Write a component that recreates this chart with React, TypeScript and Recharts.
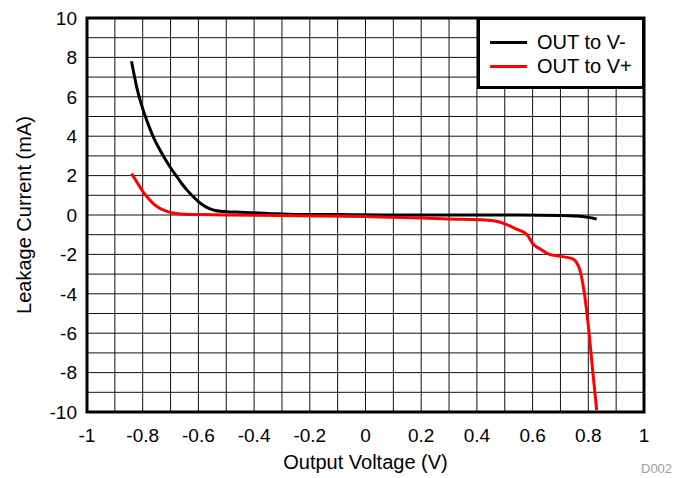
import { LineChart, Line, XAxis, YAxis, CartesianGrid, ReferenceArea } from 'recharts';

const xTicks = [-1, -0.9, -0.8, -0.7, -0.6, -0.5, -0.4, -0.3, -0.2, -0.1, 0, 0.1, 0.2, 0.3, 0.4, 0.5, 0.6, 0.7, 0.8, 0.9, 1];
const yTicks = [-10, -9, -8, -7, -6, -5, -4, -3, -2, -1, 0, 1, 2, 3, 4, 5, 6, 7, 8, 9, 10];

// OUT to V-
const vMinusX = [-0.84, -0.82, -0.8, -0.78, -0.76, -0.74, -0.72, -0.7, -0.68, -0.66, -0.64, -0.62, -0.6, -0.58, -0.56, -0.54, -0.52, -0.5, -0.45, -0.35, -0.25, -0.1, 0.1, 0.3, 0.5, 0.7, 0.76, 0.8, 0.83];
const vMinusY = [7.8, 6.4, 5.4, 4.6, 3.9, 3.35, 2.85, 2.4, 2.0, 1.6, 1.25, 0.95, 0.68, 0.47, 0.32, 0.23, 0.19, 0.17, 0.14, 0.08, 0.03, 0.02, 0.0, 0.0, 0.0, -0.02, -0.05, -0.12, -0.2];

// OUT to V+
const vPlusX = [-0.84, -0.82, -0.8, -0.78, -0.76, -0.74, -0.72, -0.7, -0.68, -0.65, -0.6, -0.5, -0.3, 0, 0.2, 0.3, 0.43, 0.47, 0.5, 0.54, 0.58, 0.6, 0.63, 0.66, 0.7, 0.74, 0.755, 0.77, 0.785, 0.8, 0.815, 0.83];
const vPlusY = [2.1, 1.65, 1.2, 0.85, 0.55, 0.35, 0.22, 0.13, 0.08, 0.04, 0.02, 0.0, -0.02, -0.08, -0.15, -0.2, -0.25, -0.32, -0.45, -0.7, -1.0, -1.45, -1.75, -2.0, -2.1, -2.2, -2.35, -2.8, -3.9, -5.6, -7.8, -9.9];

const series = [
  { name: 'OUT to V-', color: '#000000', data: vMinusX.map((x, i) => ({ x, y: vMinusY[i] })) },
  { name: 'OUT to V+', color: '#ff0000', data: vPlusX.map((x, i) => ({ x, y: vPlusY[i] })) },
];

const font = '"Liberation Sans", Arial, sans-serif';

const evenOnly = (v: number) => (Math.round(v * 10) % 2 === 0 ? String(v) : '');
const evenInt = (v: number) => (v % 2 === 0 ? String(v) : '');

export default function App() {
  return (
    <div style={{ position: 'relative', width: 675, height: 478, fontFamily: font }}>
      <style>{`body{margin:0}`}</style>
      <LineChart width={675} height={478} margin={{ top: 18, right: 31, bottom: 0, left: 0 }}>
        <CartesianGrid stroke="#111" strokeWidth={1} />
        <XAxis
          type="number"
          dataKey="x"
          domain={[-1, 1]}
          ticks={xTicks}
          tickFormatter={evenOnly}
          interval={0}
          allowDataOverflow
          axisLine={false}
          tickLine={false}
          tickMargin={11}
          height={66}
          tick={{ fill: '#000', fontSize: 19, fontFamily: font }}
          label={{ value: 'Output Voltage (V)', position: 'insideBottom', offset: 9, fill: '#000', fontSize: 20, fontFamily: font }}
        />
        <YAxis
          type="number"
          dataKey="y"
          domain={[-10, 10]}
          ticks={yTicks}
          tickFormatter={evenInt}
          interval={0}
          allowDataOverflow
          axisLine={false}
          tickLine={false}
          tickMargin={4}
          width={87}
          tick={{ fill: '#000', fontSize: 19, fontFamily: font }}
          label={{ value: 'Leakage Current (mA)', angle: -90, position: 'center', dx: -20, fill: '#000', fontSize: 20, fontFamily: font }}
        />
        <ReferenceArea x1={-1} x2={1} y1={-10} y2={10} fill="none" stroke="#000" strokeWidth={3} ifOverflow="visible" />
        {series.map((s) => (
          <Line
            key={s.name}
            data={s.data}
            dataKey="y"
            name={s.name}
            type="monotone"
            stroke={s.color}
            strokeWidth={3}
            dot={false}
            isAnimationActive={false}
          />
        ))}
      </LineChart>
      <div
        style={{
          position: 'absolute',
          left: 477,
          top: 17,
          width: 168,
          height: 72,
          border: '3px solid #000',
          boxSizing: 'border-box',
          background: '#fff',
          padding: '10px 0 0 10px',
          fontSize: 20,
        }}
      >
        {series.map((s) => (
          <div key={s.name} style={{ display: 'flex', alignItems: 'center', height: 24 }}>
            <div style={{ width: 37, height: 3, background: s.color, marginRight: 10 }} />
            <span>{s.name}</span>
          </div>
        ))}
      </div>
      <div style={{ position: 'absolute', left: 641, top: 461, fontSize: 13, color: '#a0a0a0' }}>D002</div>
    </div>
  );
}
